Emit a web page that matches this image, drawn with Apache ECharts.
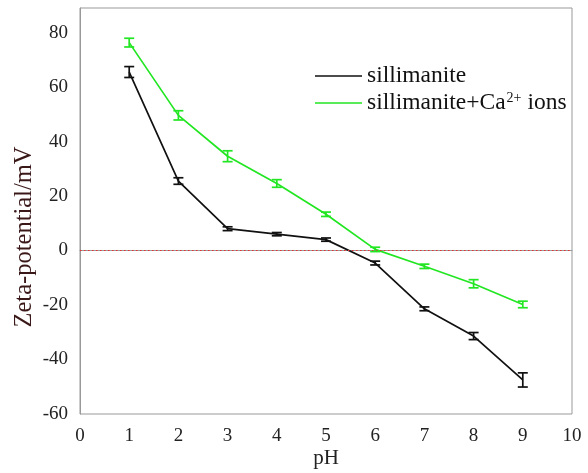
<!DOCTYPE html>
<html><head><meta charset="utf-8">
<script src="https://cdn.jsdelivr.net/npm/echarts@6/dist/echarts.min.js"></script>
<style>html,body{margin:0;padding:0;background:#fff}#c{width:588px;height:473px}</style>
</head><body><div id="c"></div>
<script>
const pH = [1, 2, 3, 4, 5, 6, 7, 8, 9];
const sillimanite = [65.5, 25.5, 8.0, 6.0, 4.0, -4.6, -21.4, -31.4, -47.5];
const sillimaniteErr = [2.0, 1.2, 0.7, 0.6, 0.6, 0.7, 0.7, 1.3, 2.6];
const sillCa = [76.3, 49.6, 34.6, 24.6, 13.3, 0.4, -5.8, -12.2, -19.8];
const sillCaErr = [1.6, 1.7, 2.0, 1.4, 0.8, 0.8, 0.8, 1.5, 1.2];
const yTicks = [-60, -40, -20, 0, 20, 40, 60, 80];
const xTicks = [0,1,2,3,4,5,6,7,8,9,10];

const BLACK = '#111111';
const GREEN = '#22e622';
const FONT = 'Liberation Serif';

function pairs(v){ return pH.map((x,i)=>[x, v[i]]); }
function errData(v,e){ return pH.map((x,i)=>[x, v[i]-e[i], v[i]+e[i]]); }
function errSeries(v,e,color){
  return {
    type:'custom', silent:true, z:5,
    data: errData(v,e),
    renderItem: function(params, api){
      const x = api.value(0);
      const lo = api.coord([x, api.value(1)]);
      const hi = api.coord([x, api.value(2)]);
      const w = 5;
      const st = {stroke: color, lineWidth: 1.7};
      return {type:'group', children:[
        {type:'line', shape:{x1:lo[0],y1:lo[1],x2:hi[0],y2:hi[1]}, style:st},
        {type:'line', shape:{x1:lo[0]-w,y1:lo[1],x2:lo[0]+w,y2:lo[1]}, style:st},
        {type:'line', shape:{x1:hi[0]-w,y1:hi[1],x2:hi[0]+w,y2:hi[1]}, style:st}
      ]};
    }
  };
}

const chart = echarts.init(document.getElementById('c'));
chart.setOption({
  animation:false,
  backgroundColor:'#fff',
  grid:{left:80, right:16, top:8, bottom:59, show:true, borderColor:'#999', borderWidth:1,
        containLabel:false, outerBoundsMode:'none'},
  legend:{
    orient:'vertical', left:315, top:64, itemGap:3, padding:0,
    icon:'rect', itemWidth:47, itemHeight:1.6,
    textStyle:{fontFamily:FONT, fontSize:23.5, color:'#111', lineHeight:23,
      rich:{
        b:{fontFamily:FONT, fontSize:23.5, color:'#111', lineHeight:23},
        a:{fontFamily:FONT, fontSize:23.5, color:'#111', lineHeight:23},
        sup:{fontFamily:FONT, fontSize:14, color:'#111', verticalAlign:'top', lineHeight:14, padding:[0,1,10,1]},
        i:{fontFamily:FONT, fontSize:23.5, color:'#111', lineHeight:23, padding:[0,0,0,5]}
      }},
    formatter:function(n){ return n==='sillimanite+Ca2+ ions' ? '{a|sillimanite+Ca}{sup|2+}{i|ions}' : '{b|' + n + '}'; },
    data:['sillimanite','sillimanite+Ca2+ ions']
  },
  xAxis:{
    type:'value', min:0, max:10, interval:1,
    name:'pH', nameLocation:'middle', nameGap:34, nameMoveOverlap:false,
    nameTextStyle:{fontFamily:FONT, fontSize:21, color:'#222'},
    axisLine:{show:true, lineStyle:{color:'#999'}},
    axisTick:{show:false}, splitLine:{show:false},
    axisLabel:{fontFamily:FONT, fontSize:19, color:'#222', margin:13, formatter:function(v){return xTicks.includes(v)?String(v):'';}}
  },
  yAxis:{
    type:'value', min:-60, max:89, interval:20,
    name:'Zeta-potential/mV', nameLocation:'middle', nameGap:43, nameMoveOverlap:false,
    nameTextStyle:{fontFamily:FONT, fontSize:24.5, color:'#3a1818', padding:[0,52,0,0]},
    axisLine:{show:true, lineStyle:{color:'#999'}},
    axisTick:{show:false}, splitLine:{show:false},
    axisLabel:{fontFamily:FONT, fontSize:19, color:'#222', margin:12, showMaxLabel:false,
      formatter:function(v){return yTicks.includes(v)?String(v):'';}}
  },
  series:[
    {name:'sillimanite', type:'line', data:pairs(sillimanite), symbol:'none', z:4,
     lineStyle:{color:BLACK, width:1.7}, itemStyle:{color:BLACK},
     markLine:{silent:true, symbol:'none', label:{show:false},
       lineStyle:{color:'#e83030', type:[1.5,2.5], width:1}, data:[{yAxis:0}]}},
    {name:'sillimanite+Ca2+ ions', type:'line', data:pairs(sillCa), symbol:'none', z:4,
     lineStyle:{color:GREEN, width:1.7}, itemStyle:{color:GREEN}},
    errSeries(sillimanite, sillimaniteErr, BLACK),
    errSeries(sillCa, sillCaErr, GREEN)
  ]
});
</script></body></html>
